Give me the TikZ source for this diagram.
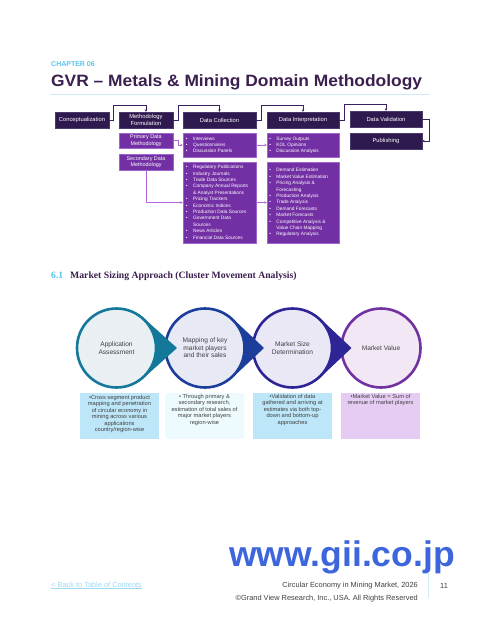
\documentclass[tikz,border=0pt]{standalone}
\usepackage{fontspec}
\setmainfont{Liberation Sans}
\newfontfamily\serfont{Liberation Serif}
\usetikzlibrary{arrows.meta,calc}
\definecolor{dkp}{HTML}{2E1A4E}
\definecolor{dkpb}{HTML}{4A3A6E}
\definecolor{midp}{HTML}{7330A4}
\definecolor{midpb}{HTML}{A066D0}
\definecolor{dkl}{HTML}{3A2060}
\definecolor{lnk}{HTML}{B565D8}
\definecolor{ttl}{HTML}{3B1F4F}
\definecolor{ltb}{HTML}{5BC3EE}
\definecolor{ulb}{HTML}{CDEBFA}
\definecolor{cTeal}{HTML}{13789A}
\definecolor{cBlue}{HTML}{1B3D9C}
\definecolor{cInd}{HTML}{2D2496}
\definecolor{cPur}{HTML}{7131A1}
\definecolor{fA}{HTML}{E9EFF3}
\definecolor{fB}{HTML}{E7E9F5}
\definecolor{fC}{HTML}{EAE8F5}
\definecolor{fD}{HTML}{F1E7F5}
\definecolor{bA}{HTML}{BDE6F8}
\definecolor{bB}{HTML}{EEFBFE}
\definecolor{bD}{HTML}{E6CCF2}
\definecolor{txg}{HTML}{404040}
\definecolor{gii}{HTML}{3D66DD}
\definecolor{lnkb}{HTML}{9FD8F5}
\begin{document}
\begin{tikzpicture}[x=1pt,y=-1pt,
  topbox/.style={draw=dkpb, fill=dkp, line width=0.5pt, text=white, font=\fontsize{5.8}{6.8}\selectfont, align=center, inner sep=0pt, minimum height=16pt},
  subbox/.style={draw=midpb, fill=midp, line width=0.5pt, text=white, font=\fontsize{5.4}{6.4}\selectfont, align=center, inner sep=0pt},
  conn/.style={draw=dkl, line width=0.7pt, -{Stealth[length=2.4pt,width=2.6pt]}},
  sconn/.style={draw=lnk, line width=0.7pt, -{Stealth[length=2.4pt,width=2.6pt]}},
  listtxt/.style={text=white, anchor=north west, inner sep=0pt, font=\fontsize{4.8}{6.4}\selectfont, align=left},
  circ/.style={circle, minimum size=79pt, inner sep=0pt, line width=2.6pt, text=txg, font=\fontsize{6.6}{7.5}\selectfont, align=center},
  infobox/.style={minimum width=79pt, minimum height=46.5pt, inner sep=0pt, anchor=north},
  infotxt/.style={anchor=north, inner sep=0pt, text=txg, font=\fontsize{5.7}{6.5}\selectfont, align=center},
  foot/.style={inner sep=0pt, font=\fontsize{7.4}{8}\selectfont}
]
\useasboundingbox (0,0) rectangle (480,621);
\fill[white] (0,0) rectangle (480,621);

% header
\node[anchor=base west, inner sep=0pt, text=ltb, font=\bfseries\fontsize{7}{8}\selectfont] (chap) at (51,66.5) {CHAPTER 06};
\node[anchor=base west, inner sep=0pt, text=ttl, font=\bfseries\fontsize{16.4}{18}\selectfont] (title) at (51,86.7) {\scalebox{1.06}[1]{GVR -- Metals \& Mining Domain Methodology}};
\draw[ulb, line width=1pt] (50,94) -- (430,94);

% flowchart top row
\node[topbox, minimum width=54pt] (concept) at (82,120) {Conceptualization};
\node[topbox, minimum width=54pt] (mf) at (146,120) {Methodology\\Formulation};
\node[topbox, minimum width=73pt] (dc) at (219.5,120) {Data Collection};
\node[topbox, minimum width=72pt] (di) at (303,120) {Data Interpretation};
\node[topbox, minimum width=72pt] (dv) at (386,119) {Data Validation};
\node[topbox, minimum width=72pt] (pub) at (386,141) {Publishing};

% sub boxes
\node[subbox, minimum width=54pt, minimum height=15pt] (prim) at (146,140.5) {Primary Data\\Methodology};
\node[subbox, minimum width=54pt, minimum height=16pt] (sec) at (146,162) {Secondary Data\\Methodology};
\node[subbox, minimum width=73pt, minimum height=24pt] (dc1) at (219.5,145) {};
\node[subbox, minimum width=73pt, minimum height=81pt] (dc2) at (219.5,202.5) {};
\node[subbox, minimum width=72pt, minimum height=24pt] (di1) at (303,145) {};
\node[subbox, minimum width=72pt, minimum height=81pt] (di2) at (303,202.5) {};

\node[listtxt] (dc1t) at ($(dc1.north west)+(3,2.6)$) {\begin{tabular}{@{}l@{\hspace{5.5pt}}l@{}}
\textbullet & Interviews\\
\textbullet & Questionnaires\\
\textbullet & Discussion Panels\end{tabular}};
\node[listtxt] (dc2t) at ($(dc2.north west)+(3,2.2)$) {\begin{tabular}{@{}l@{\hspace{5.5pt}}l@{}}
\textbullet & Regulatory Publications\\
\textbullet & Industry Journals\\
\textbullet & Trade Data Sources\\
\textbullet & Company Annual Reports\\
 & \& Analyst Presentations\\
\textbullet & Pricing Trackers\\
\textbullet & Economic Indices\\
\textbullet & Production Data Sources\\
\textbullet & Government Data\\
 & Sources\\
\textbullet & News Articles\\
\textbullet & Financial Data Sources\end{tabular}};
\node[listtxt] (di1t) at ($(di1.north west)+(2.3,2.6)$) {\begin{tabular}{@{}l@{\hspace{5.5pt}}l@{}}
\textbullet & Survey Outputs\\
\textbullet & KOL Opinions\\
\textbullet & Discussion Analysis\end{tabular}};
\node[listtxt] (di2t) at ($(di2.north west)+(2.3,5.5)$) {\begin{tabular}{@{}l@{\hspace{5.5pt}}l@{}}
\textbullet & Demand Estimation\\
\textbullet & Market Value Estimation\\
\textbullet & Pricing Analysis \&\\
 & Forecasting\\
\textbullet & Production Analysis\\
\textbullet & Trade Analysis\\
\textbullet & Demand Forecasts\\
\textbullet & Market Forecasts\\
\textbullet & Competitive Analysis \&\\
 & Value Chain Mapping\\
\textbullet & Regulatory Analysis\end{tabular}};

% connectors
\draw[conn] (concept.east) -| (113,105) -| (mf.north);
\draw[conn] (mf.east) -| (178,105) -| (dc.north);
\draw[conn] (dc.east) -| (261,105) -| (di.north);
\draw[conn] (di.east) -| (344,104) -| (dv.north);
\draw[conn] (dv.east) -- ++(7,0) |- (pub.east);
\draw[sconn] (prim.east) -- ++(5,0) |- (dc1.west);
\draw[sconn] (sec.south) |- (dc2.west);
\draw[sconn] (dc1.east) -- (di1.west);
\draw[sconn] (dc2.east) -- (di2.west);

% section heading
\node[anchor=base west, inner sep=0pt, text=ltb, font=\serfont\bfseries\fontsize{9.7}{11}\selectfont] (secnum) at (51,278) {6.1};
\node[anchor=base west, inner sep=0pt, text=ttl, font=\serfont\bfseries\fontsize{9.7}{11}\selectfont] (sechead) at (70,278) {Market Sizing Approach (Cluster Movement Analysis)};

% circles (drawn right to left so each arrow lies over the next circle)
\node[circ, draw=cPur, fill=fD] (c4) at (381,348) {Market Value};
\fill[cInd] (351.5,348) -- (320.3,318.6) -- (320.3,377.4) -- cycle;
\node[circ, draw=cInd, fill=fC] (c3) at (292.5,348) {Market Size\\Determination};
\fill[cBlue] (264,348) -- (232.8,318.6) -- (232.8,377.4) -- cycle;
\node[circ, draw=cBlue, fill=fB] (c2) at (205,348) {Mapping of key\\market players\\and their sales};
\fill[cTeal] (177,348) -- (144.3,318.6) -- (144.3,377.4) -- cycle;
\node[circ, draw=cTeal, fill=fA] (c1) at (116.5,348) {Application\\Assessment};

% info boxes
\node[infobox, fill=bA] (b1) at (119.5,392.5) {};
\node[infobox, fill=bB] (b2) at (204.5,392.5) {};
\node[infobox, fill=bA] (b3) at (292.5,392.5) {};
\node[infobox, fill=bD] (b4) at (380.5,392.5) {};
\node[infotxt] (b1t) at ($(b1.north)+(0,2.3)$) {\textbullet Cross segment product\\mapping and penetration\\of circular economy in\\mining across various\\applications\\country/region-wise};
\node[infotxt] (b2t) at ($(b2.north)+(0,1.5)$) {\textbullet\ Through primary \&\\secondary research,\\estimation of total sales of\\major market players\\region-wise};
\node[infotxt] (b3t) at ($(b3.north)+(0,1.5)$) {\textbullet Validation of data\\gathered and arriving at\\estimates via both top-\\down and bottom-up\\approaches};
\node[infotxt] (b4t) at ($(b4.north)+(0,1.5)$) {\textbullet Market Value = Sum of\\revenue of market players};

% footer
\node[anchor=base west, inner sep=0pt, text=gii, font=\bfseries\fontsize{35.5}{40}\selectfont] (www) at (229,566) {www.gii.co.jp};
\node[foot, anchor=base west, text=lnkb] (back) at (51,587) {\underline{< Back to Table of Contents}};
\node[foot, anchor=base east, text=txg] (rep) at (418,587) {Circular Economy in Mining Market, 2026};
\node[foot, anchor=base east, text=txg] (copy) at (418,600.5) {\textcopyright Grand View Research, Inc., USA. All Rights Reserved};
\draw[ulb, line width=0.8pt] (428,572) -- (428,598);
\node[foot, anchor=base west, text=txg] (pg) at (440,588) {11};
\end{tikzpicture}
\end{document}
